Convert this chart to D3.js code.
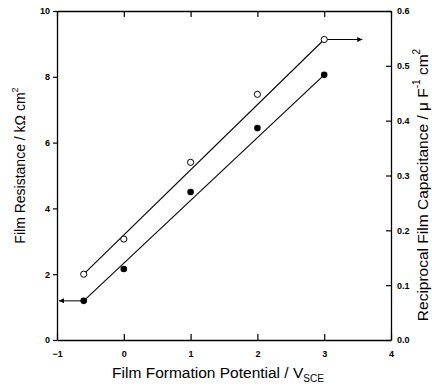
<!DOCTYPE html>
<html>
<head>
<meta charset="utf-8">
<script src="https://cdn.jsdelivr.net/npm/d3@7"></script>
<style>
  html, body { margin: 0; padding: 0; background: #fff; }
  svg { display: block; font-family: "Liberation Sans", Arial, sans-serif; }
</style>
</head>
<body>
<div id="chart"></div>
<script>
// formation potential (V vs SCE)
const potentials = [-0.6, 0, 1, 2, 3];
// film resistance, kOhm cm2 (filled circles, left axis)
const resistance = [1.19, 2.16, 4.5, 6.44, 8.06];
// reciprocal capacitance, uF-1 cm2 (open circles, right axis)
const recipCap = [0.12, 0.184, 0.324, 0.448, 0.548];

// drawn fit lines (endpoints)
const resistanceLine = [[-0.6, 1.19], [3, 8.06]];
const recipCapLine = [[-0.6, 0.12], [3, 0.548]];

// arrows pointing to the axis that each series uses
const resistanceArrow = [[-0.6, 1.19], [-0.97, 1.19]];
const recipCapArrow = [[3, 0.548], [3.57, 0.548]];

const xTicks = [-1, 0, 1, 2, 3, 4];
const yLeftTicks = [0, 2, 4, 6, 8, 10];
const yRightTicks = [0, 0.1, 0.2, 0.3, 0.4, 0.5, 0.6];

const W = 432, H = 387;
const margin = { top: 11, right: 41, bottom: 47, left: 57 };
const innerW = W - margin.left - margin.right;
const innerH = H - margin.top - margin.bottom;

const svg = d3.select("#chart").append("svg")
  .attr("width", W)
  .attr("height", H);

const defs = svg.append("defs");
defs.append("marker")
  .attr("id", "arrow")
  .attr("viewBox", "0 0 10 10")
  .attr("refX", 10)
  .attr("refY", 5)
  .attr("markerWidth", 9)
  .attr("markerHeight", 5)
  .attr("markerUnits", "userSpaceOnUse")
  .attr("orient", "auto")
  .append("path")
  .attr("d", "M0,0 L10,5 L0,10 Z")
  .attr("fill", "#000");

const g = svg.append("g").attr("transform", `translate(${margin.left},${margin.top})`);

const x = d3.scaleLinear().domain([-1, 4]).range([0, innerW]);
const yL = d3.scaleLinear().domain([0, 10]).range([innerH, 0]);
const yR = d3.scaleLinear().domain([0, 0.6]).range([innerH, 0]);

// axes
const axisStyle = sel => {
  sel.select(".domain").attr("stroke", "#000").attr("stroke-width", 1.3);
  sel.selectAll(".tick line").attr("stroke", "#000").attr("stroke-width", 1.2);
  sel.selectAll(".tick text")
    .attr("fill", "#000")
    .attr("font-size", 9)
    .attr("font-weight", "bold");
};

g.append("g")
  .attr("transform", `translate(0,${innerH})`)
  .call(d3.axisBottom(x).tickValues(xTicks).tickSizeInner(-6).tickSizeOuter(0).tickPadding(11).tickFormat(d3.format("d")))
  .call(axisStyle);

g.append("g")
  .call(d3.axisTop(x).tickValues(xTicks).tickSizeInner(-6).tickSizeOuter(0).tickFormat(""))
  .call(axisStyle);

g.append("g")
  .call(d3.axisLeft(yL).tickValues(yLeftTicks).tickSizeInner(4).tickSizeOuter(0).tickPadding(3).tickFormat(d3.format("d")))
  .call(axisStyle);

g.append("g")
  .attr("transform", `translate(${innerW},0)`)
  .call(d3.axisRight(yR).tickValues(yRightTicks).tickSizeInner(-5).tickSizeOuter(0).tickPadding(6).tickFormat(d3.format(".1f")))
  .call(axisStyle);

// fit lines
const lineL = d3.line().x(d => x(d[0])).y(d => yL(d[1]));
const lineR = d3.line().x(d => x(d[0])).y(d => yR(d[1]));

g.append("path").datum(resistanceLine).attr("d", lineL)
  .attr("fill", "none").attr("stroke", "#000").attr("stroke-width", 1.1);
g.append("path").datum(recipCapLine).attr("d", lineR)
  .attr("fill", "none").attr("stroke", "#000").attr("stroke-width", 1.1);

// arrows
g.append("path").datum(resistanceArrow).attr("d", lineL)
  .attr("fill", "none").attr("stroke", "#000").attr("stroke-width", 1)
  .attr("marker-end", "url(#arrow)");
g.append("path").datum(recipCapArrow).attr("d", lineR)
  .attr("fill", "none").attr("stroke", "#000").attr("stroke-width", 1)
  .attr("marker-end", "url(#arrow)");

// points
g.selectAll("circle.res")
  .data(potentials.map((p, i) => [p, resistance[i]]))
  .join("circle")
  .attr("class", "res")
  .attr("cx", d => x(d[0]))
  .attr("cy", d => yL(d[1]))
  .attr("r", 3.3)
  .attr("fill", "#000");

g.selectAll("circle.cap")
  .data(potentials.map((p, i) => [p, recipCap[i]]))
  .join("circle")
  .attr("class", "cap")
  .attr("cx", d => x(d[0]))
  .attr("cy", d => yR(d[1]))
  .attr("r", 3.1)
  .attr("fill", "#fff")
  .attr("stroke", "#000")
  .attr("stroke-width", 1);

// axis titles
const xt = svg.append("text")
  .attr("x", 218)
  .attr("y", 378)
  .attr("text-anchor", "middle")
  .attr("font-size", 15.5)
  .attr("fill", "#000");
xt.append("tspan").text("Film Formation Potential / V");
xt.append("tspan").attr("font-size", 10).attr("dy", 4).text("SCE");

const yt = svg.append("text")
  .attr("transform", `translate(25,${margin.top + innerH / 2 - 10}) rotate(-90)`)
  .attr("text-anchor", "middle")
  .attr("font-size", 14)
  .attr("fill", "#000");
yt.append("tspan").text("Film Resistance / k\u03A9 cm");
yt.append("tspan").attr("font-size", 9).attr("dy", -7).text("2");

const rt = svg.append("text")
  .attr("transform", `translate(428,185) rotate(-90)`)
  .attr("text-anchor", "middle")
  .attr("font-size", 15.5)
  .attr("fill", "#000");
rt.append("tspan").text("Reciprocal Film Capacitance / \u03BC F");
rt.append("tspan").attr("font-size", 10).attr("dy", -8).text("-1");
rt.append("tspan").attr("dy", 8).text(" cm");
rt.append("tspan").attr("font-size", 10).attr("dy", -8).text("2");
</script>
</body>
</html>
